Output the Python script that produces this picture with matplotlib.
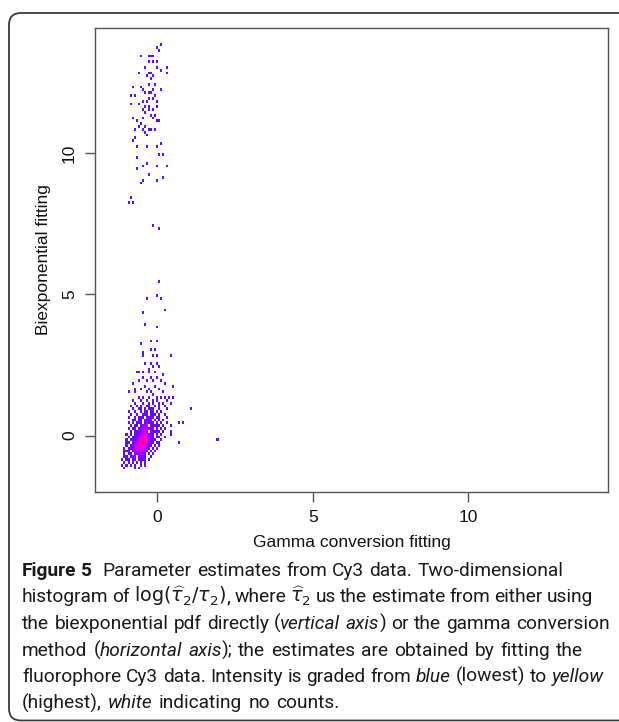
import numpy as np
import matplotlib
matplotlib.use("Agg")
import matplotlib.pyplot as plt
from matplotlib.colors import LinearSegmentedColormap
from matplotlib.patches import FancyBboxPatch
from matplotlib.transforms import IdentityTransform
from matplotlib.font_manager import FontProperties

# ---------------- data ----------------
# upper cluster: single-count cells
upper_x = [0.10, 0.04, -0.01, -0.28, -0.22, -0.17, -0.51, -0.12,
           -0.04, -0.28, -0.38, -0.01, 0.10, 0.31, 0.29, -0.28,
           -0.22, -0.33, -0.17, -0.57, -0.20, -0.06, -0.25, -0.81,
           -0.54, -0.44, -0.38, -0.28, -0.12, 0.12, -0.22, -0.06,
           -0.28, -0.17, -0.76, -0.84, -0.46, -0.33, -0.04, -0.60,
           -0.89, -0.28, -0.38, -0.17, -0.01, -0.49, -0.28, -0.38,
           -0.22, -0.06, -0.79, -0.65, -0.44, -0.17, -0.01, 0.04,
           -0.54, -0.60, -0.38, -0.22, -0.06, -0.49, -0.28, -0.40,
           -0.70, -0.33, -0.76, -0.79, 0.12, -0.65, -0.33, -0.01,
           0.04, 0.18, -0.65, -0.49, -0.33, -0.01, 0.29, -0.68,
           -0.28, -0.46, 0.15, -0.03, -0.54, -0.84, -0.95, -0.79]
upper_y = [13.82, 13.64, 13.76, 13.49, 13.49, 13.49, 13.47, 13.29,
           13.23, 13.23, 13.05, 13.05, 12.93, 13.05, 12.87, 12.87,
           12.81, 12.76, 12.76, 12.81, 12.64, 12.46, 12.46, 12.40,
           12.34, 12.23, 12.17, 12.17, 12.29, 12.23, 12.11, 12.05,
           11.93, 11.93, 12.05, 12.05, 11.81, 11.81, 11.81, 11.76,
           11.76, 11.70, 11.61, 11.58, 11.64, 11.52, 11.54, 11.42,
           11.40, 11.34, 11.28, 11.17, 11.28, 11.23, 11.17, 11.11,
           11.05, 10.93, 10.93, 10.87, 10.87, 10.81, 10.87, 10.72,
           10.81, 10.64, 10.58, 10.46, 10.36, 10.22, 10.28, 10.22,
           9.93, 9.93, 9.81, 9.58, 9.61, 9.54, 9.54, 9.46,
           9.22, 9.10, 9.20, 9.10, 8.93, 8.46, 8.28, 8.28]

# sparse middle cells
mid_x = [-0.12, 0.06, 0.06, -0.33, -0.01, 0.13, 0.26, -0.49, -0.38, -0.04]
mid_y = [7.43, 7.34, 5.43, 4.90, 4.92, 4.83, 4.49, 4.31, 3.98, 3.90]

# tail above the dense core
tail_x = [-0.51, -0.20, -0.01, -0.19, -0.06, -0.44, 0.42, -0.47,
          -0.12, -0.04, -0.41, -0.22, -0.01, -0.30, -0.12, 0.04,
          -0.65, -0.60, -0.44, -0.28, -0.06, 0.15, -0.22, -0.01,
          -0.49, -0.33, -0.81, -0.60, -0.17, 0.10, 0.26, 0.52,
          -0.41, -0.06, -0.71, -0.54, -0.92, -0.28, 0.04, 0.20,
          -0.33, -0.22, -0.76, -0.17, -0.01, 0.10, 0.26, 0.52,
          -0.60, -0.44, -0.28, 0.36]
tail_y = [3.24, 3.33, 3.33, 3.07, 3.07, 2.98, 2.90, 2.83,
          2.83, 2.83, 2.51, 2.57, 2.57, 2.36, 2.45, 2.43,
          2.27, 2.21, 2.21, 2.27, 2.27, 2.16, 2.10, 2.10,
          2.04, 1.98, 1.86, 1.98, 1.92, 1.98, 1.86, 1.74,
          1.80, 1.74, 1.65, 1.63, 1.57, 1.68, 1.63, 1.57,
          1.57, 1.51, 1.51, 1.45, 1.39, 1.39, 1.39, 1.39,
          1.33, 1.33, 1.39, 1.33]

# isolated outliers to the right of the core
out_x = [1.09, 1.91, 0.68, 0.82, 0.71, 0.42]
out_y = [0.99, -0.11, 0.46, 0.46, -0.20, 0.14]

# dense core: counts per cell, rows top (y=1.25) to bottom, columns from x=-1.15
core_rows = [
    "000001000100100101000010000",
    "000000100010010100101000100",
    "000010010100110010100100000",
    "000001001101011100100010000",
    "000100100102101101010000000",
    "000010010021201120100100000",
    "000100102110212101100010000",
    "000001101201322010101000000",
    "000101012102322201010010000",
    "000010110233402121101000100",
    "000101102334432201010100000",
    "000010213345403211101000000",
    "001010223456532101010000100",
    "000102234567543201100100000",
    "001011235678542120010000000",
    "001102346787532101100000000",
    "001023456765421010100000000",
    "010123455654320101000000000",
    "011203444543201010000000000",
    "010120333432010100000000000",
    "011012302321001000000000000",
    "101101201211010000000000000",
    "010101010101000000000000000",
    "101010100101000000000000000",
    "010000101000000000000000000",
]
core_x0, core_dx = -1.15, 0.065
core_ytop, core_dy = 1.25, 0.1

x_ticks = [0, 5, 10]
y_ticks = [0, 5, 10]
x_label = "Gamma conversion fitting"
y_label = "Biexponential fitting"

# ---------------- assemble cells ----------------
cx, cy, cw = [], [], []
for px_, py_ in [(upper_x, upper_y), (mid_x, mid_y), (tail_x, tail_y), (out_x, out_y)]:
    cx += px_
    cy += py_
    cw += [1] * len(px_)
for r, row in enumerate(core_rows):
    for c, ch in enumerate(row):
        if ch != "0":
            cx.append(core_x0 + core_dx * (c + 0.5))
            cy.append(core_ytop - core_dy * r)
            cw.append(int(ch))

xedges = np.arange(-1.15, 2.3, core_dx)
yedges = np.arange(-1.2, 14.0, core_dy)

# ---------------- figure ----------------
plt.rcParams["font.family"] = ["Liberation Sans", "DejaVu Sans"]
plt.rcParams["mathtext.fontset"] = "dejavusans"

W, H = 619, 722
fig = plt.figure(figsize=(W / 100, H / 100), dpi=100)
fig.patch.set_facecolor("white")

# outer rounded frame
frame = FancyBboxPatch((9, 1.5), 680, 707.5, boxstyle="round,pad=0,rounding_size=12",
                       transform=IdentityTransform(), fill=False, ec="#3a3a3a", lw=1.3)
fig.add_artist(frame)

ax = fig.add_axes([95 / W, 1 - 492 / H, (608 - 95) / W, (492 - 27.5) / H])
cmap = LinearSegmentedColormap.from_list(
    "bry", ["#5a10ff", "#8c00ff", "#d200ff", "#ff00c8", "#ff0060", "#ff3000", "#ffff00"])
ax.hist2d(cx, cy, bins=[xedges, yedges], weights=cw, cmap=cmap, vmin=1, vmax=12, cmin=0.5)

ax.set_xlim(-2.0, 14.49)
ax.set_ylim(-2.0, 14.46)
ax.set_xticks(x_ticks)
ax.set_yticks(y_ticks)
ax.tick_params(direction="out", length=7, width=1.0, color="#555555",
               labelsize=12.5, labelcolor="#111111", pad=6)
for lab in ax.get_yticklabels():
    lab.set_rotation(90)
    lab.set_va("center")
for s in ax.spines.values():
    s.set_color("#555555")
    s.set_linewidth(1.0)
ax.set_xlabel(x_label, fontsize=12.5, labelpad=7, color="#111111")
ax.set_ylabel(y_label, fontsize=12.5, labelpad=8, color="#111111")

# ---------------- caption ----------------
renderer = fig.canvas.get_renderer()
cap_family = ["Roboto", "DejaVu Sans"]


def measure(s, prop):
    w, h, d = renderer.get_text_width_height_descent(s, prop, ismath=False)
    return w


base_prop = FontProperties(family=cap_family, size=14)
cap_size = 1.025 * 14 * 450 / measure("Parameter estimates from Cy3 data. Two-dimensional", base_prop)


def make_prop(style):
    return FontProperties(family=cap_family, size=cap_size,
                          weight="bold" if style == "b" else "normal",
                          style="italic" if style == "i" else "normal")


def draw_line(baseline_px, runs, target_end, x_start=22):
    items = []
    for txt, style in runs:
        prop = make_prop(style)
        sp = measure("x x", prop) - measure("xx", prop)
        parts = txt.split(" ")
        for k, part in enumerate(parts):
            if k > 0:
                items.append(("sp", sp))
            if part:
                t = fig.text(0, H - baseline_px, part, fontproperties=prop,
                             transform=IdentityTransform(), ha="left", va="baseline",
                             color="#1a1a1a")
                items.append(("w", t, t.get_window_extent(renderer).width))
    natural = sum(it[-1] for it in items)
    nsp = sum(1 for it in items if it[0] == "sp")
    extra = float(np.clip((target_end - x_start - natural) / max(nsp, 1), -1.5, 1.5))
    x = x_start
    for it in items:
        if it[0] == "sp":
            x += it[1] + extra
        else:
            it[1].set_x(x)
            x += it[2]


caption = [
    [("Figure 5", "b"), ("  Parameter estimates from Cy3 data. Two-dimensional", "n")],
    [("histogram of ", "n"), (r"$\log(\widehat{\tau}_2/\tau_2)$", "n"), (", where ", "n"),
     (r"$\widehat{\tau}_2$", "n"), (" us the estimate from either using", "n")],
    [("the biexponential pdf directly (", "n"), ("vertical axis", "i"),
     (") or the gamma conversion", "n")],
    [("method (", "n"), ("horizontal axis", "i"),
     ("); the estimates are obtained by fitting the", "n")],
    [("fluorophore Cy3 data. Intensity is graded from ", "n"), ("blue", "i"),
     (" (lowest) to ", "n"), ("yellow", "i")],
    [("(highest), ", "n"), ("white", "i"), (" indicating no counts.", "n")],
]
baselines = [576, 602.5, 629, 655.5, 682, 708.5]
line_ends = [563, 593, 610, 583, 604, 367]
for b, runs, e in zip(baselines, caption, line_ends):
    draw_line(b, runs, e)

fig.savefig("out.png", dpi=100, facecolor="white")
